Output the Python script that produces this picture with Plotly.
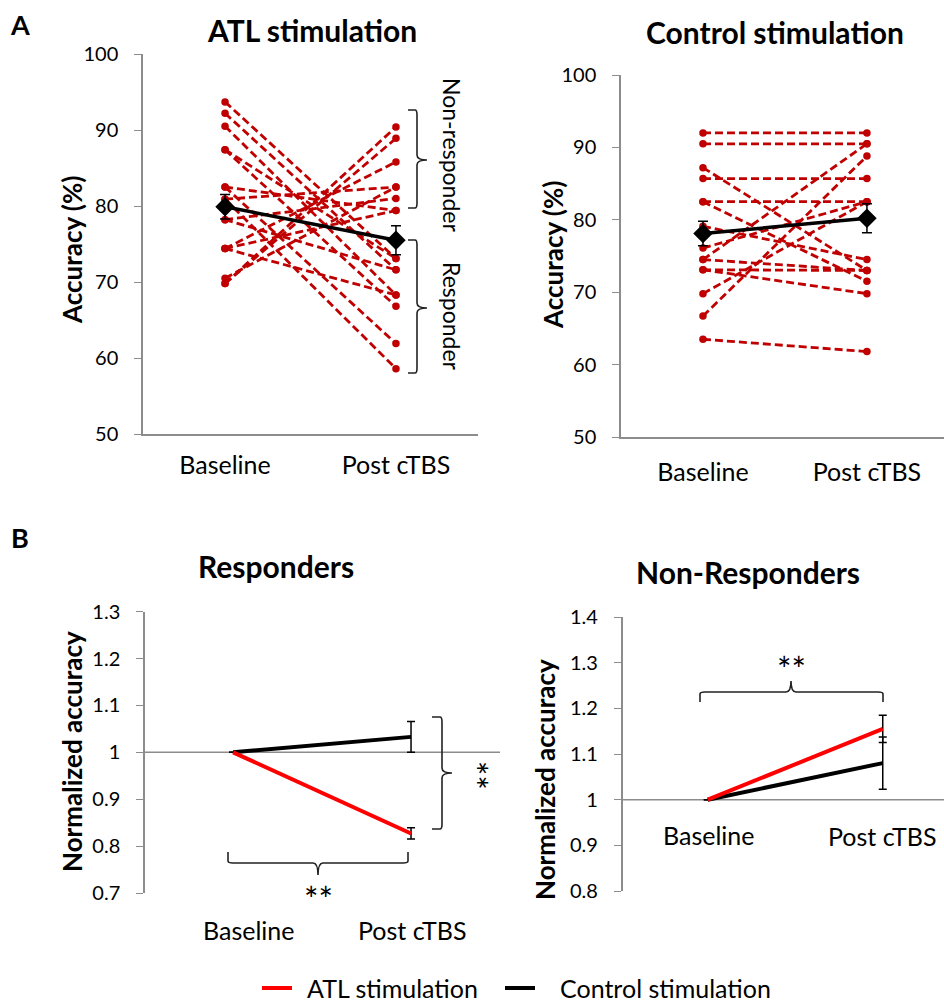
import plotly.graph_objects as go

W, H = 944, 1003
FONT = "Lato"

# ---------------- data ----------------
categories = ["Baseline", "Post cTBS"]
legend_names = ["ATL stimulation", "Control stimulation"]

# Panel A left: ATL stimulation, individual subjects
atl_baseline = [93.7, 92.2, 90.5, 87.4, 87.4, 82.5, 80.9, 78.2, 74.4,
                69.8, 69.8, 74.4, 70.5, 78.2, 74.4, 80.9, 82.5]
atl_post = [73.1, 71.6, 68.3, 66.8, 73.1, 61.9, 58.6, 71.6, 68.3,
            90.4, 88.9, 85.8, 82.5, 81.0, 79.4, 82.5, 79.4]
atl_mean = [79.9, 75.5]
atl_sem = [1.6, 1.9]

# Panel A right: Control stimulation, individual subjects
ctl_baseline = [92.0, 90.5, 87.2, 85.7, 82.5, 82.5, 79.1, 76.1, 74.5,
                74.5, 73.1, 73.1, 69.8, 66.7, 63.5]
ctl_post = [92.0, 90.5, 73.0, 85.7, 82.5, 71.5, 74.5, 82.5, 90.5,
            73.0, 73.0, 69.8, 82.5, 88.8, 61.8]
ctl_mean = [78.1, 80.2]
ctl_sem = [1.7, 2.0]

# Panel B: normalized accuracy
resp_atl = [1.0, 0.827]
resp_atl_err = [0, 0.012]
resp_ctl = [1.0, 1.033]
resp_ctl_err = [0, 0.033]
nonresp_atl = [1.0, 1.155]
nonresp_atl_err = [0, 0.03]
nonresp_ctl = [1.0, 1.08]
nonresp_ctl_err = [0, 0.057]

A_yticks = [50, 60, 70, 80, 90, 100]
BL_yticks = [0.7, 0.8, 0.9, 1.0, 1.1, 1.2, 1.3]
BR_yticks = [0.8, 0.9, 1.0, 1.1, 1.2, 1.3, 1.4]

RED_D = "#C00000"
RED = "#FF0000"
GRAY = "#8C8C8C"


def fx(p):
    return p / W


def fy(p):
    return 1 - p / H


def subj_xy(base, post):
    xs, ys = [], []
    for b, p in zip(base, post):
        xs += [0, 1, None]
        ys += [b, p, None]
    return xs, ys


fig = go.Figure()

DASH = dict(color=RED_D, width=2.8, dash="8px,4px")

# ---- A left ----
xs, ys = subj_xy(atl_baseline, atl_post)
fig.add_trace(go.Scatter(x=xs, y=ys, mode="lines+markers", xaxis="x", yaxis="y",
                         line=DASH, marker=dict(color=RED_D, size=7.5), showlegend=False))
fig.add_trace(go.Scatter(x=[0, 1], y=atl_mean, mode="lines+markers", xaxis="x", yaxis="y",
                         line=dict(color="black", width=3.5),
                         marker=dict(color="black", symbol="diamond", size=15),
                         error_y=dict(type="data", array=atl_sem, color="black",
                                      thickness=1.5, width=5),
                         showlegend=False))

# ---- A right ----
xs, ys = subj_xy(ctl_baseline, ctl_post)
fig.add_trace(go.Scatter(x=xs, y=ys, mode="lines+markers", xaxis="x2", yaxis="y2",
                         line=DASH, marker=dict(color=RED_D, size=7.5), showlegend=False))
fig.add_trace(go.Scatter(x=[0, 1], y=ctl_mean, mode="lines+markers", xaxis="x2", yaxis="y2",
                         line=dict(color="black", width=3.5),
                         marker=dict(color="black", symbol="diamond", size=15),
                         error_y=dict(type="data", array=ctl_sem, color="black",
                                      thickness=1.5, width=5),
                         showlegend=False))

# ---- B left ----
fig.add_trace(go.Scatter(x=[0, 1], y=resp_ctl, mode="lines", xaxis="x3", yaxis="y3",
                         line=dict(color="black", width=4),
                         error_y=dict(type="data", array=resp_ctl_err, color="black",
                                      thickness=1.5, width=4),
                         name=legend_names[1], showlegend=False))
fig.add_trace(go.Scatter(x=[0, 1], y=resp_atl, mode="lines", xaxis="x3", yaxis="y3",
                         line=dict(color=RED, width=4),
                         error_y=dict(type="data", array=resp_atl_err, color="black",
                                      thickness=1.5, width=4),
                         name=legend_names[0], showlegend=False))

# ---- B right ----
fig.add_trace(go.Scatter(x=[0, 1], y=nonresp_ctl, mode="lines", xaxis="x4", yaxis="y4",
                         line=dict(color="black", width=4),
                         error_y=dict(type="data", array=nonresp_ctl_err, color="black",
                                      thickness=1.5, width=4),
                         name=legend_names[1], showlegend=False))
fig.add_trace(go.Scatter(x=[0, 1], y=nonresp_atl, mode="lines", xaxis="x4", yaxis="y4",
                         line=dict(color=RED, width=4),
                         error_y=dict(type="data", array=nonresp_atl_err, color="black",
                                      thickness=1.5, width=4),
                         name=legend_names[0], showlegend=False))

yax_common = dict(showline=True, linecolor=GRAY, linewidth=1.5, ticks="outside",
                  ticklen=7, tickcolor=GRAY, showgrid=False, zeroline=False,
                  tickfont=dict(family=FONT, size=20, color="black"), fixedrange=True,
                  automargin=False, ticklabelstandoff=12)
xax_common = dict(showgrid=False, zeroline=False, fixedrange=True, automargin=False,
                  tickfont=dict(family=FONT, size=25, color="black"))

fig.update_layout(
    width=W, height=H, margin=dict(l=0, r=0, t=0, b=0, pad=0, autoexpand=False),
    paper_bgcolor="white", plot_bgcolor="rgba(0,0,0,0)",
    font=dict(family=FONT, color="black"), showlegend=False,
    xaxis=dict(domain=[fx(143), fx(478)], range=[-0.48, 1.48], anchor="y",
               tickvals=[0, 1], ticktext=categories, showline=True, linecolor=GRAY,
               linewidth=1.5, ticks="", ticklabelstandoff=8, **xax_common),
    yaxis=dict(domain=[fy(434), fy(54)], range=[50, 100], anchor="x",
               tickvals=A_yticks, **yax_common),
    xaxis2=dict(domain=[fx(621), fx(944)], range=[-0.5, 1.47], anchor="y2",
                tickvals=[0, 1], ticktext=categories, showline=True, linecolor=GRAY,
                linewidth=1.5, ticks="", ticklabelstandoff=12, **xax_common),
    yaxis2=dict(domain=[fy(437), fy(75)], range=[50, 100], anchor="x2",
                tickvals=A_yticks, **yax_common),
    xaxis3=dict(domain=[fx(145), fx(500)], range=[-0.495, 1.5], anchor="y3",
                showticklabels=False, showline=False, ticks="", **xax_common),
    yaxis3=dict(domain=[fy(893), fy(611.7)], range=[0.7, 1.3], anchor="x3",
                tickvals=BL_yticks, ticktext=[f"{v:g}" for v in BL_yticks], **yax_common),
    xaxis4=dict(domain=[fx(622.7), fx(944)], range=[-0.486, 1.35], anchor="y4",
                showticklabels=False, showline=False, ticks="", **xax_common),
    yaxis4=dict(domain=[fy(891), fy(617)], range=[0.8, 1.4], anchor="x4",
                tickvals=BR_yticks, ticktext=[f"{v:g}" for v in BR_yticks], **yax_common),
)

shapes = []
# horizontal reference line at 1.0 in B panels
for xr, yr in (("x3", "y3"), ("x4", "y4")):
    shapes.append(dict(type="line", xref=f"{xr} domain", yref=yr, x0=0, x1=1, y0=1, y1=1,
                       line=dict(color=GRAY, width=1.5), layer="below"))


def vbrace(x_end, x_line, x_tip, y0, y1, ytip):
    r = 5
    p = (f"M {fx(x_end)},{fy(y0)} L {fx(x_line - 2)},{fy(y0)} "
         f"Q {fx(x_line)},{fy(y0)} {fx(x_line)},{fy(y0 + r)} "
         f"L {fx(x_line)},{fy(ytip - r)} Q {fx(x_line)},{fy(ytip)} {fx(x_tip)},{fy(ytip)} "
         f"Q {fx(x_line)},{fy(ytip)} {fx(x_line)},{fy(ytip + r)} "
         f"L {fx(x_line)},{fy(y1 - r)} Q {fx(x_line)},{fy(y1)} {fx(x_line - 2)},{fy(y1)} "
         f"L {fx(x_end)},{fy(y1)}")
    return dict(type="path", xref="paper", yref="paper", path=p,
                line=dict(color="#222222", width=1.6))


def hbrace(x0, x1, y_end, y_line, y_tip, xtip):
    r = 5
    sgn = 1 if y_tip > y_line else -1
    p = (f"M {fx(x0)},{fy(y_end)} L {fx(x0)},{fy(y_line - sgn * 2)} "
         f"Q {fx(x0)},{fy(y_line)} {fx(x0 + r)},{fy(y_line)} "
         f"L {fx(xtip - r)},{fy(y_line)} Q {fx(xtip)},{fy(y_line)} {fx(xtip)},{fy(y_tip)} "
         f"Q {fx(xtip)},{fy(y_line)} {fx(xtip + r)},{fy(y_line)} "
         f"L {fx(x1 - r)},{fy(y_line)} Q {fx(x1)},{fy(y_line)} {fx(x1)},{fy(y_line - sgn * 2)} "
         f"L {fx(x1)},{fy(y_end)}")
    return dict(type="path", xref="paper", yref="paper", path=p,
                line=dict(color="#222222", width=1.6))


shapes.append(vbrace(408, 417, 427, 110, 208, 160))
shapes.append(vbrace(408, 417, 427, 240, 373, 308))
shapes.append(vbrace(432, 442, 452, 717, 829, 773))
shapes.append(hbrace(228, 408, 852, 863, 875, 318))
shapes.append(hbrace(700, 883, 702, 692, 681, 791))

# legend keys
shapes.append(dict(type="line", xref="paper", yref="paper", x0=fx(262), x1=fx(292),
                   y0=fy(988), y1=fy(988), line=dict(color=RED, width=4)))
shapes.append(dict(type="line", xref="paper", yref="paper", x0=fx(505), x1=fx(535),
                   y0=fy(988), y1=fy(988), line=dict(color="black", width=4)))
fig.update_layout(shapes=shapes)

ann = []


def text(x, y, s, size, bold=False, angle=0, xanchor="center"):
    ann.append(dict(x=fx(x), y=fy(y), xref="paper", yref="paper", text=f"<b>{s}</b>" if bold else s,
                    showarrow=False, textangle=angle, xanchor=xanchor, yanchor="middle",
                    font=dict(family=FONT, size=size, color="black")))


text(20, 25, "A", 27, bold=True)
text(20, 537, "B", 27, bold=True)
text(312, 30, "ATL stimulation", 30, bold=True)
text(775, 32, "Control stimulation", 30, bold=True)
text(276, 566, "Responders", 30, bold=True)
text(748, 572, "Non-Responders", 30, bold=True)
text(72, 250, "Accuracy (%)", 26, bold=True, angle=-90)
text(553, 255, "Accuracy (%)", 26, bold=True, angle=-90)
text(72, 752, "Normalized accuracy", 26, bold=True, angle=-90)
text(545, 780, "Normalized accuracy", 26, bold=True, angle=-90)
text(452, 155, "Non-responder", 23, angle=90)
text(452, 316, "Responder", 23, angle=90)
text(318, 898, "**", 34)
text(476, 775, "**", 34, angle=90)
text(791, 668, "**", 34)
# category labels for panel B
text(248, 930, categories[0], 25)
text(412, 930, categories[1], 25)
text(708, 835, categories[0], 25)
text(882, 836, categories[1], 25)
# legend labels
text(305, 988, legend_names[0], 25, xanchor="left")
text(558, 988, legend_names[1], 25, xanchor="left")
fig.update_layout(annotations=ann)

fig.write_html("out.html", config={"responsive": False, "displayModeBar": False},
               post_script="document.body.style.margin='0';document.body.style.overflow='hidden';")
